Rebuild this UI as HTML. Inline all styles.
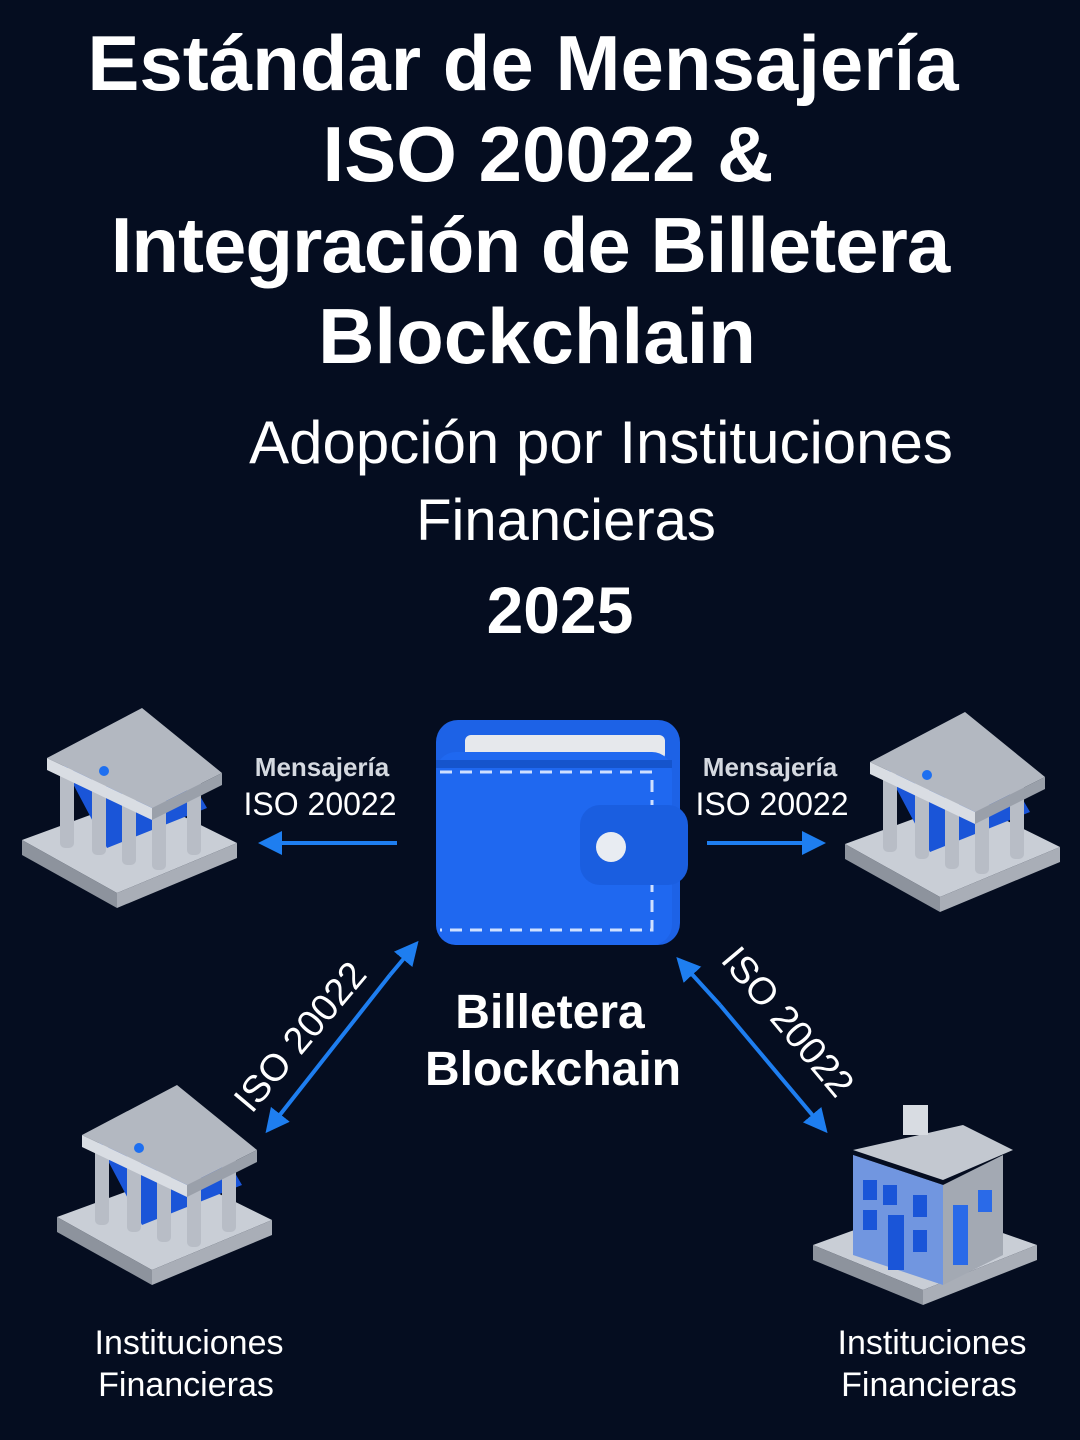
<!DOCTYPE html>
<html><head><meta charset="utf-8"><style>
html,body{margin:0;padding:0;background:#050d20;}
body{width:1080px;height:1440px;position:relative;overflow:hidden;font-family:"Liberation Sans","DejaVu Sans",sans-serif;color:#fff;}
.t{position:absolute;left:0;width:1080px;text-align:center;white-space:nowrap;font-weight:bold;font-size:78px;line-height:91px;}
.s{position:absolute;left:0;width:1080px;text-align:center;white-space:nowrap;}
</style></head><body>
<div class="t" style="top:18px;left:-17px;">Estándar de Mensajería</div>
<div class="t" style="top:109px;left:8px;">ISO 20022 &amp;</div>
<div class="t" style="top:200px;left:-10px;letter-spacing:-1px;">Integración de Billetera</div>
<div class="t" style="top:291px;left:-3px;">Blockchlain</div>
<div class="s" style="top:404px;font-size:60px;line-height:78px;left:61px;">Adopción por Instituciones</div>
<div class="s" style="top:482px;font-size:58px;line-height:78px;left:26px;">Financieras</div>
<div class="s" style="top:570px;font-size:66px;font-weight:bold;line-height:80px;left:20px;">2025</div>

<svg width="1080" height="1440" style="position:absolute;left:0;top:0" xmlns="http://www.w3.org/2000/svg">
<defs>
<marker id="ah" markerWidth="6" markerHeight="6" refX="5" refY="3" orient="auto" markerUnits="strokeWidth"><path d="M0,0L6,3L0,6z" fill="#1e7ef0"/></marker>
<g id="bank">
  <polygon points="0,132 120,88 215,135 95,185" fill="#c9ced6"/>
  <polygon points="0,132 95,185 95,200 0,147" fill="#8d939d"/>
  <polygon points="95,185 215,135 215,150 95,200" fill="#a9aeb7"/>
  <polygon points="40,55 150,40 185,100 85,140" fill="#1a55d8"/>
  <g fill="#b8bdc6">
    <rect x="38" y="60" width="14" height="80" rx="5"/>
    <rect x="70" y="65" width="14" height="82" rx="5"/>
    <rect x="100" y="72" width="14" height="85" rx="5"/>
    <rect x="130" y="80" width="14" height="82" rx="5"/>
    <rect x="165" y="65" width="14" height="82" rx="5"/>
  </g>
  <polygon points="25,50 120,0 200,65 130,100" fill="#b3b8c1"/>
  <polygon points="25,50 130,100 130,112 25,62" fill="#d9dde3"/>
  <polygon points="130,100 200,65 200,77 130,112" fill="#9aa0aa"/>
  <circle cx="82" cy="63" r="5" fill="#1e6ff0"/>
</g>
</defs>
<use href="#bank" x="22" y="708"/>
<use href="#bank" x="845" y="712"/>
<use href="#bank" x="57" y="1085"/>
<g transform="translate(813,1095)">
  <polygon points="0,150 110,110 224,150 110,195" fill="#c9ced6"/>
  <polygon points="0,150 110,195 110,210 0,165" fill="#8d939d"/>
  <polygon points="110,195 224,150 224,165 110,210" fill="#a9aeb7"/>
  <polygon points="40,60 130,90 130,190 40,160" fill="#d6dae0"/>
  <polygon points="130,90 190,60 190,160 130,190" fill="#a3a9b3"/>
  <polygon points="40,55 150,30 200,55 130,85" fill="#c3c8d0"/>
  <rect x="90" y="10" width="25" height="30" fill="#d8dce2"/>
  <polygon points="40,60 130,90 130,190 40,160" fill="#1f5fe0" opacity="0.55"/>
  <g fill="#1a55d8">
    <rect x="50" y="85" width="14" height="20"/><rect x="70" y="90" width="14" height="20"/>
    <rect x="50" y="115" width="14" height="20"/><rect x="75" y="120" width="16" height="55"/>
    <rect x="100" y="100" width="14" height="22"/><rect x="100" y="135" width="14" height="22"/>
    <rect x="140" y="110" width="15" height="60" fill="#2a6ae8"/><rect x="165" y="95" width="14" height="22" fill="#2a6ae8"/>
  </g>
</g>
<rect x="436" y="720" width="244" height="225" rx="22" fill="#1d62e6"/>
<rect x="465" y="735" width="200" height="25" rx="6" fill="#e6e8ec"/>
<rect x="436" y="752" width="236" height="193" rx="20" fill="#1f68f0"/>
<rect x="436" y="760" width="236" height="8" fill="#1554cc"/>
<path d="M440,772 H652 V930 H440" fill="none" stroke="#cfe0ff" stroke-width="3" stroke-dasharray="12,8"/>
<rect x="580" y="805" width="108" height="80" rx="20" fill="#1a5ee0"/>
<circle cx="611" cy="847" r="15" fill="#e8ecf2"/>
<g stroke="#1e7ef0" stroke-width="4" fill="none">
  <line x1="397" y1="843" x2="262" y2="843" marker-end="url(#ah)"/>
  <line x1="707" y1="843" x2="822" y2="843" marker-end="url(#ah)"/>
  <line x1="390" y1="975" x2="268" y2="1130" marker-end="url(#ah)"/>
  <line x1="390" y1="975" x2="416" y2="944" marker-end="url(#ah)"/>
  <line x1="720" y1="1005" x2="679" y2="960" marker-end="url(#ah)"/>
  <line x1="720" y1="1005" x2="825" y2="1130" marker-end="url(#ah)"/>
</g>
<g font-family="Liberation Sans, sans-serif" fill="#fff">
  <text x="322" y="776" font-size="26" font-weight="bold" fill="#d5d9e0" text-anchor="middle">Mensajería</text>
  <text x="320" y="815" font-size="32" text-anchor="middle">ISO 20022</text>
  <text x="770" y="776" font-size="26" font-weight="bold" fill="#d5d9e0" text-anchor="middle">Mensajería</text>
  <text x="772" y="815" font-size="32" text-anchor="middle">ISO 20022</text>
  <text transform="translate(310,1045) rotate(-50)" font-size="38" text-anchor="middle">ISO 20022</text>
  <text transform="translate(778,1030) rotate(50)" font-size="38" text-anchor="middle">ISO 20022</text>
  <text x="550" y="1028" font-size="48" font-weight="bold" text-anchor="middle">Billetera</text>
  <text x="553" y="1085" font-size="48" font-weight="bold" text-anchor="middle">Blockchain</text>
  <text x="189" y="1354" font-size="34" text-anchor="middle">Instituciones</text>
  <text x="186" y="1396" font-size="34" text-anchor="middle">Financieras</text>
  <text x="932" y="1354" font-size="34" text-anchor="middle">Instituciones</text>
  <text x="929" y="1396" font-size="34" text-anchor="middle">Financieras</text>
</g>
</svg>
</body></html>
